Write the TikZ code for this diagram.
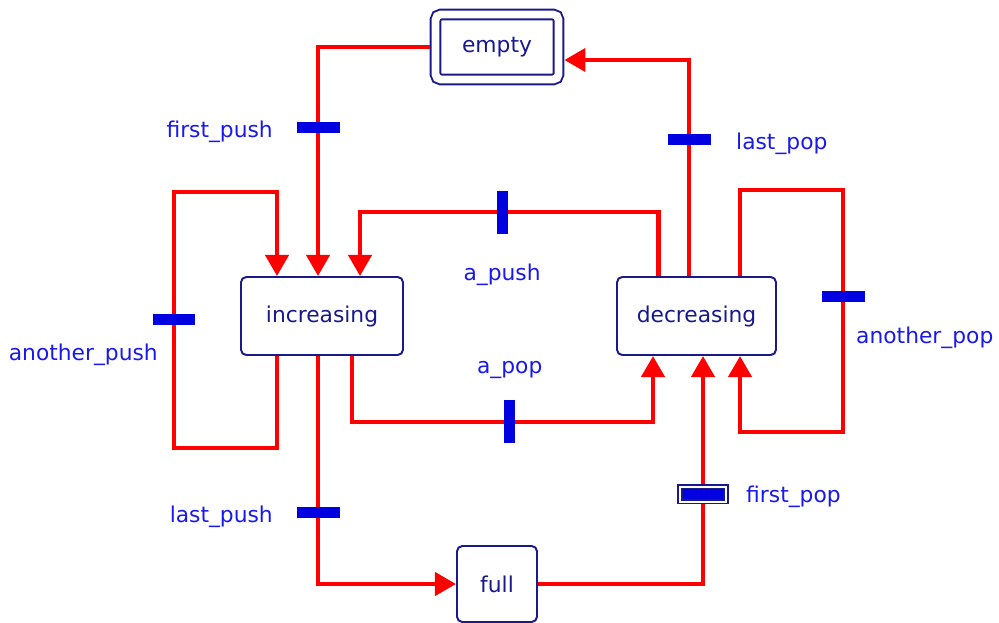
\documentclass[tikz,border=0pt]{standalone}
\usepackage{fontspec}
\setmainfont{DejaVu Sans}
\usetikzlibrary{arrows.meta}
\usetikzlibrary{positioning}
\usetikzlibrary{calc}

\definecolor{stnavy}{RGB}{25,25,140}
\definecolor{lblblue}{RGB}{25,25,235}
\definecolor{barblue}{RGB}{0,0,225}
\definecolor{flowred}{RGB}{255,0,0}

\begin{document}
\begin{tikzpicture}[x=0.02cm,y=-0.02cm,>={Triangle[length=12pt,width=13pt]}]
 \tikzstyle{state node}=[rectangle,rounded corners=3pt,draw=stnavy,line width=1.1pt,fill=white,text=stnavy,font=\fontsize{12.4}{14}\selectfont,minimum width=3.2cm,minimum height=1.56cm,inner sep=0]
 \tikzstyle{start node}=[state node,double=white,double distance=4.5pt,minimum width=2.46cm,minimum height=1.3cm,outer sep=3.35pt]
 \tikzset{
 	flow/.style={draw=flowred,line width=2.7pt,->},
 	hbar/.style={rectangle,fill=barblue,minimum width=0.86cm,minimum height=0.22cm,inner sep=0},
 	vbar/.style={rectangle,fill=barblue,minimum width=0.22cm,minimum height=0.86cm,inner sep=0},
 	dbar/.style={rectangle,fill=barblue,draw=stnavy,line width=1pt,double=white,double distance=1.2pt,minimum width=0.92cm,minimum height=0.3cm,inner sep=0},
 	lbl/.style={text=lblblue,font=\fontsize{12.4}{14}\selectfont,inner sep=0}
 }
 \useasboundingbox (0,0) rectangle (999,622);

       \node[start node] (empty) at (497,47) {empty};
       \node[state node,minimum width=3.24cm] (inc) at (322,316) {increasing};
       \node[state node,minimum width=3.18cm] (dec) at (696.5,316) {decreasing};
       \node[state node,minimum width=1.6cm,minimum height=1.52cm] (full) at (497,584) {full};

     \draw[flow] (empty.west) -| node[hbar,pos=.675] (b1) {} ($(inc.north)+(-4,0)$);
     \draw[flow] ($(dec.north)+(-7.5,0)$) |- node[hbar,pos=.316] (b2) {} ($(empty.east)+(0,13)$);
     \draw[flow] ($(dec.north)+(-38,0)$) -- ++(0,-64) -| node[vbar,pos=.262] (b3) {} ($(inc.north)+(38,0)$);
     \draw[flow] ($(inc.south)+(-45,0)$) -- ++(0,92) -- ++(-103,0) -- node[hbar] (b4) {} ++(0,-256) -| ($(inc.north)+(-45,0)$);
     \draw[flow] ($(inc.south)+(30,0)$) -- ++(0,66) -| node[vbar,pos=.262] (b5) {} ($(dec.south)+(-43.5,0)$);
     \draw[flow] ($(dec.north)+(43.5,0)$) -- ++(0,-86) -- ++(103,0) -- node[hbar,pos=.44] (b6) {} ++(0,242) -| ($(dec.south)+(43.5,0)$);
     \draw[flow] ($(inc.south)+(-4,0)$) |- node[hbar,pos=.344] (b7) {} (full.west);
     \draw[flow] (full.east) -| node[dbar,pos=.697] (b8) {} ($(dec.south)+(6.5,0)$);

       \node[lbl,left=0.42cm of b1,yshift=-2.5pt] (l1) {first\_push};
       \node[lbl,right=0.46cm of b2,yshift=-2.5pt] (l2) {last\_pop};
       \node[lbl,below=0.55cm of b3] (l3) {a\_push};
       \node[lbl,below left=0.31cm and -0.16cm of b4] (l4) {another\_push};
       \node[lbl,above=0.39cm of b5] (l5) {a\_pop};
       \node[lbl,below right=0.45cm and -0.22cm of b6] (l6) {another\_pop};
       \node[lbl,left=0.42cm of b7,yshift=-2pt] (l7) {last\_push};
       \node[lbl,right=0.38cm of b8,yshift=-1.5pt] (l8) {first\_pop};
 \end{tikzpicture}
\end{document}
